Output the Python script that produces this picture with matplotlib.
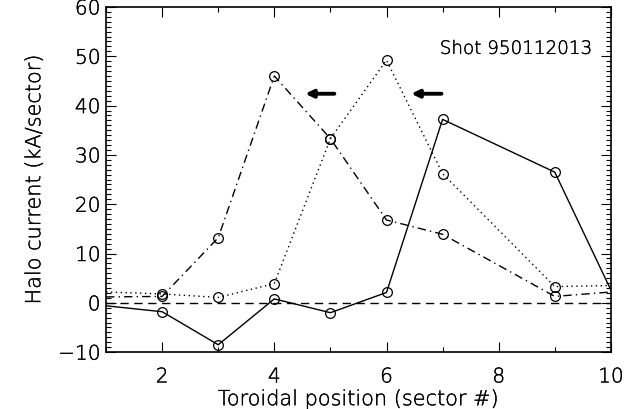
import matplotlib
matplotlib.use("Agg")
import matplotlib.pyplot as plt
import matplotlib.patheffects as pe
from matplotlib.ticker import MultipleLocator

# Toroidal sector positions (sector 8 has no data)
sectors = [1, 2, 3, 4, 5, 6, 7, 9, 10]

# Halo current per sector (kA/sector) at three successive times
halo_solid = [-0.6, -1.8, -8.5, 0.8, -2.0, 2.1, 37.2, 26.5, 2.6]
halo_dotted = [2.2, 1.8, 1.1, 3.9, 33.3, 49.2, 26.2, 3.3, 3.5]
halo_dashdot = [1.2, 1.3, 13.2, 46.0, 33.3, 16.8, 13.9, 1.3, 2.2]

shot_label = "Shot 950112013"
x_label = "Toroidal position (sector #)"
y_label = "Halo current (kA/sector)"
x_ticks = [2, 4, 6, 8, 10]
y_ticks = [-10, 0, 10, 20, 30, 40, 50, 60]

plt.rcParams["font.family"] = ["DejaVu Sans"]
plt.rcParams["font.weight"] = "light"
plt.rcParams["axes.labelweight"] = "light"

# thin pen-plotter style lettering
ink = [pe.withStroke(linewidth=0.25, foreground="black")]

fig = plt.figure(figsize=(6.35, 4.09), dpi=100)
ax = fig.add_axes([0.167, 0.139, 0.795, 0.844])

lw = 1.0
mk = dict(marker="o", markersize=7, markerfacecolor="none",
          markeredgecolor="black", markeredgewidth=0.9)
inner = slice(1, -1)  # markers on measured interior sectors only

for vals, ls in [(halo_solid, "-"), (halo_dotted, (0, (1, 2.5))),
                 (halo_dashdot, (0, (6, 3, 1, 3)))]:
    ax.plot(sectors, vals, color="black", lw=lw, linestyle=ls)
    ax.plot(sectors[inner], vals[inner], linestyle="none", **mk)

ax.axhline(0, color="black", lw=1.0, linestyle=(0, (6, 4)))

# Arrows indicating the direction of toroidal rotation
for x0, x1 in [(5.07, 4.55), (6.98, 6.44)]:
    ax.annotate("", xy=(x1, 42.4), xytext=(x0, 42.4),
                arrowprops=dict(arrowstyle="-|>,head_length=0.45,head_width=0.22",
                                color="black", lw=2.8, shrinkA=0, shrinkB=0))

ax.text(9.67, 51.5, shot_label, ha="right", va="center", fontsize=13.2,
        color="black", path_effects=ink)

ax.set_xlim(1, 10)
ax.set_ylim(-10, 60)
ax.set_xticks(x_ticks)
ax.set_yticks(y_ticks)
ax.xaxis.set_minor_locator(MultipleLocator(1))
ax.yaxis.set_minor_locator(MultipleLocator(1))
ax.tick_params(which="both", direction="in", top=True, right=True,
               labelsize=14.5, width=0.8, labelcolor="black")
ax.tick_params(axis="x", which="major", pad=11)
ax.tick_params(axis="y", which="major", pad=4)
ax.tick_params(which="major", length=7)
ax.tick_params(which="minor", length=3.5)
for s in ax.spines.values():
    s.set_linewidth(1.2)

ax.set_xlabel(x_label, fontsize=15, labelpad=2, color="black", path_effects=ink)
ax.set_ylabel(y_label, fontsize=15, labelpad=10, color="black", path_effects=ink)
for lab in ax.get_xticklabels() + ax.get_yticklabels():
    lab.set_path_effects(ink)

fig.savefig("out.png", dpi=100)
